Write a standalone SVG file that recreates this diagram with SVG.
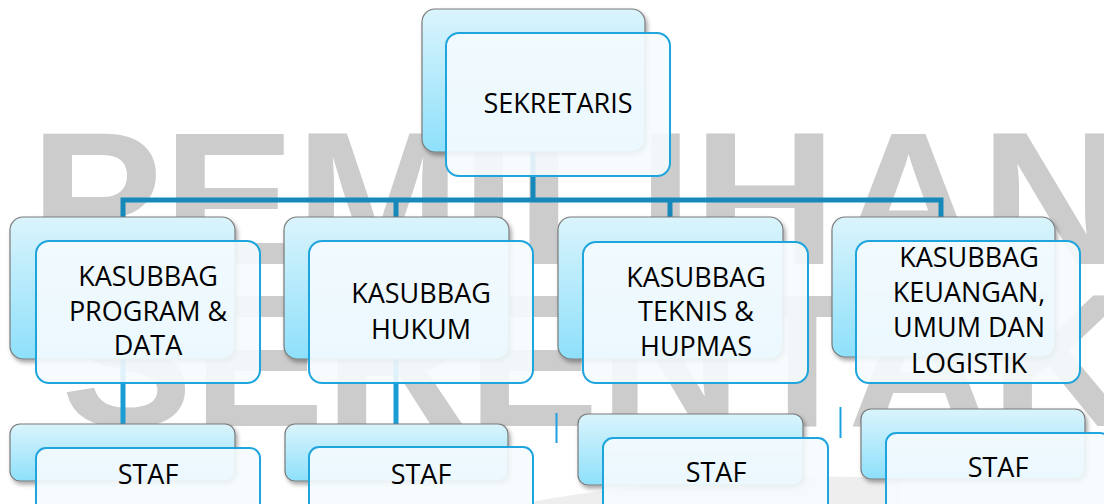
<svg xmlns="http://www.w3.org/2000/svg" width="1104" height="504" viewBox="0 0 1104 504">
<style>
.wm{font-family:"Liberation Sans",Arial,sans-serif;font-weight:bold;font-size:190px;fill:#cccccc}
.back{fill:url(#gBack);stroke:#7a7a7a;stroke-width:1.2;filter:url(#sh)}
.front{fill:#f5fbfe;fill-opacity:0.9;stroke:#1fa5dd;stroke-width:2}
.lbl{font-family:"Open Sans","Noto Sans","Liberation Sans",sans-serif;font-size:27px;fill:#000;text-anchor:middle}
.con{fill:none;stroke:#1688ba;stroke-width:5}
.con2{fill:none;stroke:#1b9dd4;stroke-width:5}
.tick{fill:none;stroke:#1ba1e2;stroke-width:2}
</style>
<defs>
<linearGradient id="gBack" x1="0" y1="0" x2="0" y2="1">
<stop offset="0" stop-color="#daf4fc"/>
<stop offset="1" stop-color="#8ee0fb"/>
</linearGradient>
<filter id="sh" x="-10%" y="-10%" width="125%" height="130%">
<feDropShadow dx="2" dy="3" stdDeviation="2" flood-color="#000" flood-opacity="0.35"/>
</filter>
</defs>
<rect width="1104" height="504" fill="#ffffff"/>
<g id="watermark">
<path d="M520 504 Q700 470 900 478 L900 504 Z" fill="#eeeeee"/>
<text class="wm" x="30" y="264" textLength="1094" lengthAdjust="spacingAndGlyphs">PEMILIHAN</text>
<text class="wm" x="61" y="426" textLength="1072" lengthAdjust="spacingAndGlyphs">SERENTAK</text>
</g>
<g id="connectors">
<path class="con" d="M533 152 V200"/>
<path class="con" d="M123 218 V200 H941 V218"/>
<path class="con" d="M396 200 V218"/>
<path class="con" d="M670 200 V218"/>
<path class="con2" d="M123 359 V424"/>
<path class="con2" d="M396 359 V424"/>
<path class="tick" d="M556.5 413 V443"/>
<path class="tick" d="M840.5 407 V438"/>
</g>
<g id="sekretaris">
<rect class="back" x="422" y="9" width="223" height="143" rx="13"/>
<rect class="front" x="446" y="33" width="224" height="143" rx="13"/>
<text class="lbl" x="558" y="113">SEKRETARIS</text>
</g>
<g id="kasubbag-program">
<rect class="back" x="10" y="217" width="225" height="142" rx="13"/>
<rect class="front" x="36" y="241" width="224" height="142" rx="13"/>
<text class="lbl" x="148" y="286">KASUBBAG</text>
<text class="lbl" x="148" y="321">PROGRAM &amp;</text>
<text class="lbl" x="148" y="355">DATA</text>
</g>
<g id="kasubbag-hukum">
<rect class="back" x="284" y="217" width="225" height="142" rx="13"/>
<rect class="front" x="309" y="241" width="224" height="142" rx="13"/>
<text class="lbl" x="421" y="303">KASUBBAG</text>
<text class="lbl" x="421" y="339">HUKUM</text>
</g>
<g id="kasubbag-teknis">
<rect class="back" x="558" y="217" width="225" height="142" rx="13"/>
<rect class="front" x="583" y="242" width="225" height="141" rx="13"/>
<text class="lbl" x="696" y="287">KASUBBAG</text>
<text class="lbl" x="696" y="321">TEKNIS &amp;</text>
<text class="lbl" x="696" y="356">HUPMAS</text>
</g>
<g id="kasubbag-keuangan">
<rect class="back" x="832" y="217" width="223" height="140" rx="13"/>
<rect class="front" x="856" y="241" width="224" height="142" rx="13"/>
<text class="lbl" x="969" y="267">KASUBBAG</text>
<text class="lbl" x="969" y="302">KEUANGAN,</text>
<text class="lbl" x="969" y="337">UMUM DAN</text>
<text class="lbl" x="969" y="373">LOGISTIK</text>
</g>
<g id="staf-1">
<rect class="back" x="10" y="424" width="225" height="57" rx="10"/>
<rect class="front" x="36" y="448" width="224" height="80" rx="10"/>
<text class="lbl" x="148" y="484">STAF</text>
</g>
<g id="staf-2">
<rect class="back" x="285" y="424" width="223" height="57" rx="10"/>
<rect class="front" x="309" y="447" width="224" height="80" rx="10"/>
<text class="lbl" x="421" y="484">STAF</text>
</g>
<g id="staf-3">
<rect class="back" x="578" y="414" width="225" height="71" rx="10"/>
<rect class="front" x="603" y="438" width="225" height="90" rx="10"/>
<text class="lbl" x="716" y="482">STAF</text>
</g>
<g id="staf-4">
<rect class="back" x="861" y="409" width="224" height="70" rx="10"/>
<rect class="front" x="886" y="433" width="224" height="90" rx="10"/>
<text class="lbl" x="998" y="477">STAF</text>
</g>
</svg>
